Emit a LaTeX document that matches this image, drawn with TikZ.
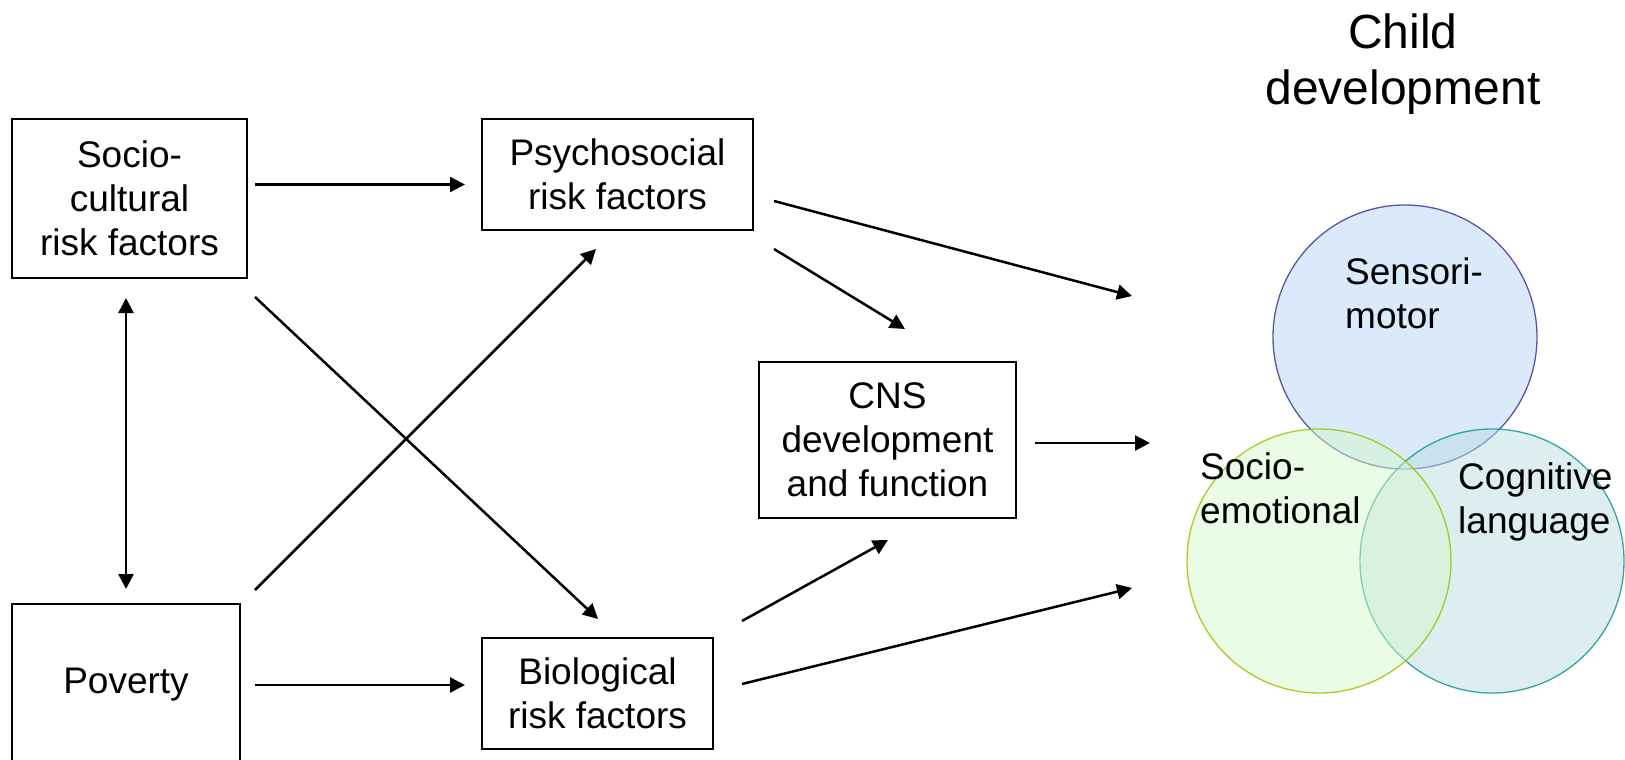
\documentclass[tikz,border=0pt]{standalone}
\usepackage{fontspec}
\setmainfont{Liberation Sans}
\usetikzlibrary{arrows.meta}
\definecolor{smfill}{RGB}{181,213,247}
\definecolor{smline}{RGB}{60,60,150}
\definecolor{sefill}{RGB}{213,247,205}
\definecolor{seline}{RGB}{150,200,0}
\definecolor{cgfill}{RGB}{185,221,225}
\definecolor{cgline}{RGB}{20,150,150}
\begin{document}
\begin{tikzpicture}[x=1pt,y=-1pt,
  box/.style={draw=black,line width=1.6pt,align=center,inner sep=0pt,
    font=\fontsize{37}{44}\selectfont},
  lbl/.style={align=left,inner sep=0pt,anchor=west,font=\fontsize{37}{44}\selectfont},
  tip/.tip={Triangle[length=15pt,width=15pt]},
  arr/.style={line width=2.5pt,-tip},
  venn/.style={circle,minimum size=264pt,inner sep=0pt,line width=1.3pt,fill opacity=0.5,draw opacity=0.85}]
\useasboundingbox (0,0) rectangle (1625,760);
% boxes
\node[box,minimum width=235pt,minimum height=159pt] (sc) at (129.5,198.5) {Socio-\\cultural\\risk factors};
\node[box,minimum width=271pt,minimum height=111pt] (ps) at (617.5,174.5) {Psychosocial\\risk factors};
\node[box,minimum width=228pt,minimum height=162pt] (pov) at (126,685) {Poverty};
\node[box,minimum width=231pt,minimum height=111pt] (bio) at (597.5,693.5) {Biological\\risk factors};
\node[box,minimum width=257pt,minimum height=156pt] (cns) at (887.5,440) {CNS\\development\\and function};
% venn
\node[venn,draw=smline,fill=smfill] (sm) at (1405,337) {};
\node[venn,draw=cgline,fill=cgfill] (cg) at (1492,561) {};
\node[venn,draw=seline,fill=sefill] (se) at (1319,561) {};
\node[lbl] (smt) at (1345,293) {Sensori-\\motor};
\node[lbl] (set) at (1200,488) {Socio-\\emotional};
\node[lbl] (cgt) at (1458,502) {Cognitive\\language};
\node[align=center,inner sep=0pt,font=\fontsize{48}{56}\selectfont] (cd) at (1403,64) {Child\\development};
% arrow end points
\coordinate (a1s) at (255,184.5); \coordinate (a1e) at (465,184.5);
\coordinate (a2s) at (255,297);   \coordinate (a2e) at (598,619);
\coordinate (a3s) at (255,590);   \coordinate (a3e) at (596,249);
\coordinate (a4s) at (126,298);   \coordinate (a4e) at (126,589);
\coordinate (a5s) at (255,685);   \coordinate (a5e) at (465,685);
\coordinate (a6s) at (774,201);   \coordinate (a6e) at (1132,296);
\coordinate (a7s) at (774,249);   \coordinate (a7e) at (905,329);
\coordinate (a8s) at (1035,443);  \coordinate (a8e) at (1150,443);
\coordinate (a9s) at (742,621);   \coordinate (a9e) at (888,540);
\coordinate (a10s) at (742,684);  \coordinate (a10e) at (1132,588);
\draw[arr] (a1s) -- (a1e);
\draw[arr] (a2s) -- (a2e);
\draw[arr] (a3s) -- (a3e);
\draw[line width=2.5pt,tip-tip] (a4s) -- (a4e);
\draw[arr] (a5s) -- (a5e);
\draw[arr] (a6s) -- (a6e);
\draw[arr] (a7s) -- (a7e);
\draw[arr] (a8s) -- (a8e);
\draw[arr] (a9s) -- (a9e);
\draw[arr] (a10s) -- (a10e);
\end{tikzpicture}
\end{document}
